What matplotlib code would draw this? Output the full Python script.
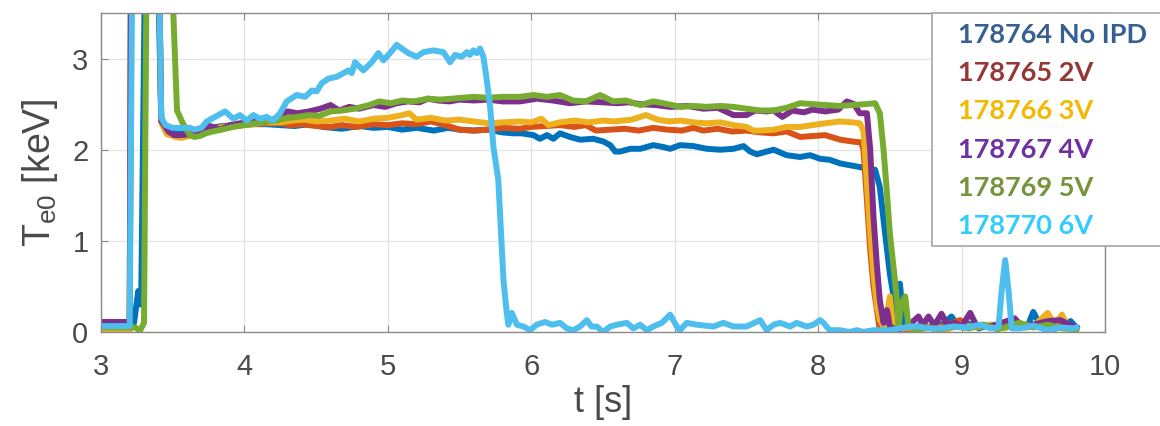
import matplotlib.pyplot as plt
from matplotlib.patches import Rectangle

plt.rcParams['font.family'] = 'Liberation Sans'
plt.rcParams['mathtext.fontset'] = 'custom'
plt.rcParams['mathtext.rm'] = 'Liberation Sans'
plt.rcParams['mathtext.it'] = 'Liberation Sans'

# shot 178764, no IPD
t_764 = [3.0, 3.2, 3.23, 3.26, 3.28, 3.31, 3.39, 3.42, 3.46, 3.52, 3.6, 3.68, 3.76, 3.85, 3.95,
         4.05, 4.15, 4.25, 4.35, 4.45, 4.55, 4.68, 4.8, 4.9, 5.0, 5.1, 5.2, 5.32, 5.42, 5.5,
         5.6, 5.7, 5.8, 5.87, 5.93, 6.015, 6.06, 6.11, 6.154, 6.2, 6.27, 6.34, 6.433, 6.503,
         6.55, 6.585, 6.62, 6.69, 6.76, 6.85, 6.92, 6.968, 7.037, 7.13, 7.224, 7.317, 7.41,
         7.48, 7.526, 7.573, 7.642, 7.69, 7.78, 7.875, 7.944, 8.014, 8.08, 8.153, 8.22, 8.29,
         8.34, 8.397, 8.43, 8.467, 8.5, 8.537, 8.55, 8.57, 8.6, 8.65, 8.72, 8.8, 8.88, 8.93,
         8.98, 9.05, 9.12, 9.2, 9.3, 9.4, 9.46, 9.5, 9.55, 9.62, 9.7, 9.76, 9.8]
T_764 = [0.04, 0.04, 0.1, 0.45, 0.3, 4.5, 4.5, 2.35, 2.22, 2.18, 2.18, 2.2, 2.24, 2.26, 2.27,
         2.28, 2.28, 2.27, 2.26, 2.28, 2.25, 2.23, 2.26, 2.24, 2.25, 2.22, 2.24, 2.21, 2.24, 2.22,
         2.21, 2.22, 2.19, 2.18, 2.18, 2.16, 2.12, 2.16, 2.12, 2.18, 2.14, 2.11, 2.12, 2.09,
         2.05, 1.98, 1.98, 2.01, 2.01, 2.05, 2.03, 2.01, 2.05, 2.04, 2.01, 2.0, 2.01,
         2.04, 1.98, 1.95, 1.98, 2.0, 1.94, 1.92, 1.94, 1.9, 1.89, 1.85, 1.83, 1.81,
         1.79, 1.78, 1.59, 1.08, 0.64, 0.28, 0.06, 0.53, 0.05, 0.03, 0.08, 0.04, 0.1, 0.17,
         0.06, 0.09, 0.04, 0.08, 0.05, 0.1, 0.06, 0.22, 0.07, 0.1, 0.05, 0.12, 0.05]

# shot 178765, 2V
t_765 = [3.0, 3.2, 3.21, 3.4, 3.42, 3.46, 3.52, 3.6, 3.68, 3.76, 3.85, 3.95, 4.05, 4.15, 4.25,
         4.32, 4.4, 4.5, 4.6, 4.68, 4.78, 4.9, 5.0, 5.1, 5.2, 5.3, 5.4, 5.5, 5.6, 5.7, 5.8,
         5.92, 6.0, 6.1, 6.2, 6.3, 6.38, 6.45, 6.55, 6.65, 6.75, 6.85, 6.95, 7.05, 7.13, 7.2,
         7.3, 7.4, 7.5, 7.6, 7.69, 7.78, 7.875, 7.96, 8.05, 8.153, 8.24, 8.3, 8.316, 8.34,
         8.363, 8.386, 8.42, 8.43, 8.5, 8.58, 8.65, 8.73, 8.8, 8.9, 8.99, 9.05, 9.15, 9.25,
         9.35, 9.45, 9.55, 9.65, 9.72, 9.8]
T_765 = [0.02, 0.02, 4.5, 4.5, 2.3, 2.18, 2.15, 2.15, 2.18, 2.22, 2.25, 2.27, 2.28, 2.29, 2.29,
         2.27, 2.28, 2.26, 2.25, 2.27, 2.25, 2.28, 2.27, 2.29, 2.28, 2.31, 2.27, 2.22, 2.21, 2.22, 2.24,
         2.23, 2.25, 2.26, 2.27, 2.25, 2.27, 2.21, 2.22, 2.23, 2.21, 2.24, 2.22, 2.21, 2.24, 2.21,
         2.23, 2.2, 2.21, 2.19, 2.18, 2.2, 2.14, 2.15, 2.16, 2.11, 2.09, 2.08, 2.0, 1.45,
         0.9, 0.5, 0.13, 0.02, 0.0, 0.04, 0.02, 0.07, 0.04, 0.08, 0.13, 0.05, 0.08, 0.04,
         0.09, 0.05, 0.08, 0.03, 0.1, 0.03]

# shot 178766, 3V
t_766 = [3.0, 3.2, 3.21, 3.4, 3.42, 3.46, 3.52, 3.56, 3.62, 3.7, 3.78, 3.85, 3.95, 4.05, 4.15,
         4.25, 4.33, 4.42, 4.5, 4.6, 4.7, 4.8, 4.9, 5.0, 5.1, 5.15, 5.2, 5.3, 5.4, 5.5, 5.6,
         5.7, 5.8, 5.92, 6.0, 6.07, 6.12, 6.2, 6.3, 6.4, 6.5, 6.58, 6.7, 6.8, 6.88, 6.96, 7.04,
         7.13, 7.22, 7.32, 7.41, 7.5, 7.55, 7.6, 7.69, 7.78, 7.875, 7.96, 8.05, 8.15, 8.24,
         8.29, 8.316, 8.34, 8.363, 8.386, 8.41, 8.43, 8.456, 8.48, 8.5, 8.52, 8.55, 8.62, 8.7,
         8.8, 8.9, 9.0, 9.1, 9.2, 9.3, 9.4, 9.5, 9.6, 9.65, 9.7, 9.74, 9.8]
T_766 = [0.02, 0.02, 4.5, 4.5, 2.3, 2.17, 2.14, 2.13, 2.15, 2.19, 2.22, 2.25, 2.26, 2.28, 2.3,
         2.3, 2.32, 2.33, 2.31, 2.32, 2.34, 2.31, 2.34, 2.35, 2.38, 2.4, 2.33, 2.35, 2.32, 2.33, 2.31,
         2.29, 2.3, 2.31, 2.3, 2.34, 2.27, 2.3, 2.32, 2.3, 2.32, 2.31, 2.33, 2.38, 2.33, 2.31, 2.32,
         2.3, 2.29, 2.3, 2.27, 2.25, 2.21, 2.21, 2.22, 2.25, 2.25, 2.27, 2.29, 2.31, 2.3,
         2.29, 2.21, 1.63, 1.08, 0.64, 0.28, 0.13, 0.06, 0.2, 0.39, 0.1, 0.02, 0.05, 0.02,
         0.06, 0.03, 0.08, 0.05, 0.08, 0.04, 0.1, 0.06, 0.21, 0.08, 0.19, 0.06, 0.04]

# shot 178767, 4V
t_767 = [3.0, 3.2, 3.21, 3.4, 3.42, 3.47, 3.51, 3.56, 3.62, 3.69, 3.76, 3.83, 3.9, 3.97, 4.05,
         4.13, 4.2, 4.25, 4.3, 4.37, 4.45, 4.53, 4.6, 4.66, 4.73, 4.8, 4.9, 4.98, 5.06, 5.14,
         5.22, 5.28, 5.35, 5.43, 5.5, 5.6, 5.7, 5.8, 5.92, 6.04, 6.15, 6.27, 6.38, 6.5, 6.6,
         6.68, 6.76, 6.87, 6.97, 7.09, 7.2, 7.3, 7.41, 7.5, 7.56, 7.64, 7.69, 7.75, 7.82, 7.9,
         7.96, 8.05, 8.14, 8.2, 8.25, 8.29, 8.34, 8.363, 8.386, 8.41, 8.43, 8.456, 8.48, 8.5,
         8.55, 8.6, 8.65, 8.7, 8.73, 8.77, 8.81, 8.86, 8.9, 8.95, 9.0, 9.06, 9.1, 9.2, 9.28,
         9.37, 9.42, 9.5, 9.6, 9.69, 9.75, 9.8]
T_767 = [0.11, 0.11, 4.5, 4.5, 2.32, 2.2, 2.16, 2.16, 2.17, 2.22, 2.26, 2.22, 2.27, 2.29, 2.31,
         2.3, 2.33, 2.38, 2.42, 2.4, 2.42, 2.45, 2.49, 2.43, 2.47, 2.45, 2.49, 2.47, 2.51, 2.53,
         2.52, 2.56, 2.54, 2.53, 2.55, 2.54, 2.55, 2.53, 2.53, 2.56, 2.54, 2.51, 2.53, 2.52, 2.51,
         2.52, 2.5, 2.49, 2.47, 2.48, 2.45, 2.46, 2.38, 2.38, 2.43, 2.42, 2.43, 2.36, 2.43, 2.41,
         2.44, 2.42, 2.44, 2.53, 2.5, 2.4, 2.4, 2.0, 1.26, 0.72, 0.35, 0.1, 0.24, 0.06,
         0.02, 0.05, 0.1, 0.17, 0.08, 0.17, 0.07, 0.2, 0.08, 0.1, 0.06, 0.21, 0.08, 0.06, 0.1,
         0.15, 0.06, 0.08, 0.12, 0.13, 0.08, 0.05]

# shot 178769, 5V
t_769 = [3.0, 3.24, 3.27, 3.3, 3.32, 3.48, 3.53, 3.57, 3.62, 3.65, 3.69, 3.73, 3.78, 3.84, 3.92,
         4.0, 4.08, 4.155, 4.22, 4.3, 4.37, 4.45, 4.52, 4.6, 4.68, 4.77, 4.87, 4.94, 5.02, 5.1,
         5.18, 5.28, 5.36, 5.45, 5.52, 5.6, 5.7, 5.8, 5.92, 6.015, 6.11, 6.2, 6.29, 6.38, 6.48,
         6.57, 6.66, 6.76, 6.85, 6.92, 7.04, 7.13, 7.22, 7.32, 7.41, 7.5, 7.6, 7.69, 7.78, 7.875,
         7.96, 8.05, 8.15, 8.24, 8.33, 8.397, 8.43, 8.456, 8.48, 8.5, 8.525, 8.55, 8.56, 8.58,
         8.607, 8.63, 8.68, 8.75, 8.85, 8.95, 9.05, 9.15, 9.25, 9.32, 9.4, 9.5, 9.6, 9.7, 9.8]
T_769 = [0.05, 0.05, 0.01, 0.1, 4.5, 4.5, 2.43, 2.29, 2.16, 2.14, 2.15, 2.18, 2.2, 2.22, 2.25,
         2.27, 2.29, 2.31, 2.32, 2.35, 2.36, 2.38, 2.37, 2.42, 2.43, 2.45, 2.49, 2.53, 2.51, 2.54,
         2.53, 2.56, 2.55, 2.56, 2.57, 2.58, 2.57, 2.58, 2.58, 2.6, 2.58, 2.6, 2.54, 2.53, 2.6,
         2.53, 2.54, 2.49, 2.53, 2.51, 2.47, 2.48, 2.47, 2.48, 2.47, 2.45, 2.43, 2.43, 2.46, 2.51,
         2.5, 2.49, 2.48, 2.49, 2.5, 2.51, 2.4, 2.0, 1.52, 1.08, 0.72, 0.35, 0.06, 0.31,
         0.39, 0.06, 0.02, 0.05, 0.03, 0.06, 0.04, 0.08, 0.03, 0.06, 0.1, 0.05, 0.08, 0.04, 0.03]

# shot 178770, 6V
t_770 = [3.0, 3.2, 3.22, 3.4, 3.42, 3.45, 3.5, 3.56, 3.62, 3.65, 3.7, 3.737, 3.795, 3.865, 3.923,
         3.969, 4.016, 4.062, 4.109, 4.155, 4.2, 4.248, 4.295, 4.365, 4.423, 4.47, 4.504, 4.539,
         4.585, 4.644, 4.69, 4.725, 4.748, 4.771, 4.829, 4.888, 4.934, 4.969, 5.015, 5.062,
         5.097, 5.143, 5.2, 5.248, 5.318, 5.387, 5.434, 5.469, 5.515, 5.55, 5.573, 5.596, 5.62,
         5.643, 5.666, 5.69, 5.713, 5.736, 5.77, 5.806, 5.829, 5.84, 5.864, 5.899, 5.945, 5.992,
         6.038, 6.096, 6.143, 6.2, 6.247, 6.293, 6.34, 6.387, 6.42, 6.457, 6.5, 6.55, 6.596,
         6.666, 6.712, 6.759, 6.805, 6.85, 6.91, 6.968, 7.015, 7.037, 7.084, 7.154, 7.27, 7.34,
         7.41, 7.5, 7.596, 7.64, 7.69, 7.735, 7.805, 7.85, 7.92, 7.967, 8.014, 8.037, 8.08,
         8.15, 8.22, 8.27, 8.316, 8.386, 8.456, 8.5, 8.57, 8.64, 8.71, 8.758, 8.851, 8.944,
         9.037, 9.13, 9.2, 9.257, 9.28, 9.304, 9.327, 9.35, 9.41, 9.5, 9.595, 9.688, 9.78, 9.8]
T_770 = [0.065, 0.065, 4.5, 4.5, 2.35, 2.27, 2.24, 2.24, 2.24, 2.22, 2.24, 2.31, 2.36, 2.42, 2.34,
         2.38, 2.32, 2.38, 2.34, 2.36, 2.32, 2.4, 2.53, 2.6, 2.58, 2.65, 2.64, 2.73,
         2.78, 2.8, 2.84, 2.87, 2.84, 2.96, 2.87, 2.96, 3.06, 2.98, 3.06, 3.15,
         3.11, 3.06, 3.02, 3.07, 3.09, 3.07, 2.96, 3.04, 3.02, 3.07, 3.04, 3.09, 3.06,
         3.11, 3.02, 2.76, 2.47, 2.03, 1.67, 0.57, 0.21, 0.08, 0.21, 0.08, 0.06, 0.02,
         0.08, 0.11, 0.08, 0.1, 0.04, 0.02, 0.06, 0.13, 0.06, 0.06, 0.0, 0.06, 0.08,
         0.1, 0.04, 0.08, 0.02, 0.06, 0.1, 0.19, 0.06, 0.02, 0.1, 0.08, 0.06, 0.1,
         0.06, 0.06, 0.13, 0.02, 0.08, 0.1, 0.06, 0.1, 0.06, 0.08, 0.13, 0.1, 0.02,
         0.02, 0.0, 0.02, 0.0, 0.02, 0.02, 0.02, 0.04, 0.06, 0.06, 0.04, 0.04, 0.06,
         0.05, 0.08, 0.04, 0.05, 0.46, 0.79, 0.46, 0.04, 0.04, 0.07, 0.02, 0.05, 0.04, 0.05]

line_colors = ['#0072BD', '#D95319', '#EDB120', '#7E2F8E', '#77AC30', '#4DBEEE']
legend_labels = ['178764 No IPD', '178765 2V', '178766 3V', '178767 4V', '178769 5V', '178770 6V']
legend_colors = ['#366092', '#953735', '#F5B800', '#7030A0', '#77933C', '#33CCFF']

fig = plt.figure(figsize=(11.6, 4.26), dpi=100)
ax = fig.add_axes([101/1160, 1 - 332/426, 1004/1160, 319/426])

series = [(t_764, T_764), (t_765, T_765), (t_766, T_766),
          (t_767, T_767), (t_769, T_769), (t_770, T_770)]
for (t, T), c in zip(series, line_colors):
    ax.plot(t, T, color=c, lw=4.3, solid_joinstyle='round')

ax.set_xlim(3, 10)
ax.set_ylim(0, 3.5)
ax.set_xticks(range(3, 11))
ax.set_yticks([0, 1, 2, 3])
ax.grid(True, color='#e3e3e3', lw=0.9)
ax.set_axisbelow(True)
for s in ax.spines.values():
    s.set_color('#8a8a8a')
    s.set_linewidth(1.0)
ax.tick_params(direction='in', length=5, color='#8a8a8a', labelsize=21,
               labelcolor='#4a4a4a', top=True, right=True)
ax.tick_params(axis='x', pad=15)
ax.tick_params(axis='y', pad=9)
ax.set_xlabel('t [s]', fontsize=26, color='#4a4a4a', labelpad=3)
ax.set_ylabel('T$_{\\rm e0}$ [keV]', fontsize=27, color='#4a4a4a', labelpad=9)

# legend box pasted on top, as in the slide
box = Rectangle((932/1160, 1 - 246/426), 240/1160, 233/426, transform=fig.transFigure,
                facecolor='white', edgecolor='#a6a6a6', lw=1.2, zorder=5)
fig.patches.append(box)
for i, (lab, c) in enumerate(zip(legend_labels, legend_colors)):
    fig.text(958/1160, 1 - (35 + 38.2*i)/426, lab, color=c, fontsize=19.5, fontweight='bold',
             family='Lato', va='center', ha='left', zorder=6)

fig.savefig('out.png', dpi=100)
